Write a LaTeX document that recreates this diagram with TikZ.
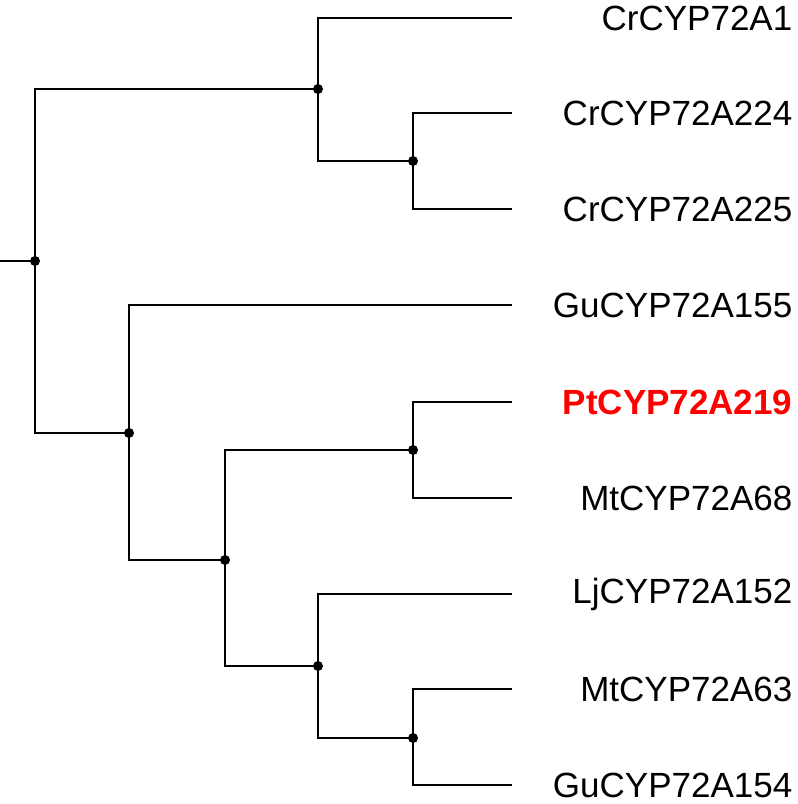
\documentclass[tikz,border=0pt]{standalone}
\usepackage{fontspec}
\setmainfont{Liberation Sans}
\begin{document}
\begin{tikzpicture}[x=1pt,y=-1pt,line width=1.4pt,
  br/.style={draw=black},
  lab/.style={anchor=east,font=\fontsize{35}{38}\selectfont,inner sep=0pt},
  dot/.style={circle,fill=black,inner sep=0pt,minimum size=10pt}]
\useasboundingbox (0,0) rectangle (798,804);
\coordinate (stub) at (0,261);
\node[dot] (R) at (35,261) {};
\node[dot] (A) at (318,89) {};
\node[dot] (B) at (413,161) {};
\node[dot] (C) at (129,433) {};
\node[dot] (D) at (225,560) {};
\node[dot] (E) at (413,450) {};
\node[dot] (F) at (318,666) {};
\node[dot] (G) at (413,738) {};
\foreach \n/\y in {l1/18,l2/113,l3/209,l4/305,l5/402,l6/498,l7/594,l8/689,l9/785}{\coordinate (\n) at (512,\y);}
\node[lab] (t1) at (793,18) {CrCYP72A1};
\node[lab] (t2) at (793,113) {CrCYP72A224};
\node[lab] (t3) at (793,209) {CrCYP72A225};
\node[lab] (t4) at (793,305) {GuCYP72A155};
\node[lab,text=red,font=\fontsize{35}{38}\selectfont\bfseries] (t5) at (793,402) {PtCYP72A219};
\node[lab] (t6) at (793,498) {MtCYP72A68};
\node[lab] (t7) at (793,594) {LjCYP72A152};
\node[lab] (t8) at (793,689) {MtCYP72A63};
\node[lab] (t9) at (793,785) {GuCYP72A154};
\draw[br] (stub) -- (R.center);
\draw[br] (A.center |- 0,89) -- (R.center |- 0,89) -- (R.center |- 0,433) -- (C.center);
\draw[br] (l1) -- (A.center |- l1) -- (A.center |- B) -- (B.center);
\draw[br] (l2) -- (B.center |- l2) -- (B.center |- l3) -- (l3);
\draw[br] (l4) -- (C.center |- l4) -- (C.center |- D) -- (D.center);
\draw[br] (E.center) -- (D.center |- E) -- (D.center |- F) -- (F.center);
\draw[br] (l5) -- (E.center |- l5) -- (E.center |- l6) -- (l6);
\draw[br] (l7) -- (F.center |- l7) -- (F.center |- G) -- (G.center);
\draw[br] (l8) -- (G.center |- l8) -- (G.center |- l9) -- (l9);
\end{tikzpicture}
\end{document}
